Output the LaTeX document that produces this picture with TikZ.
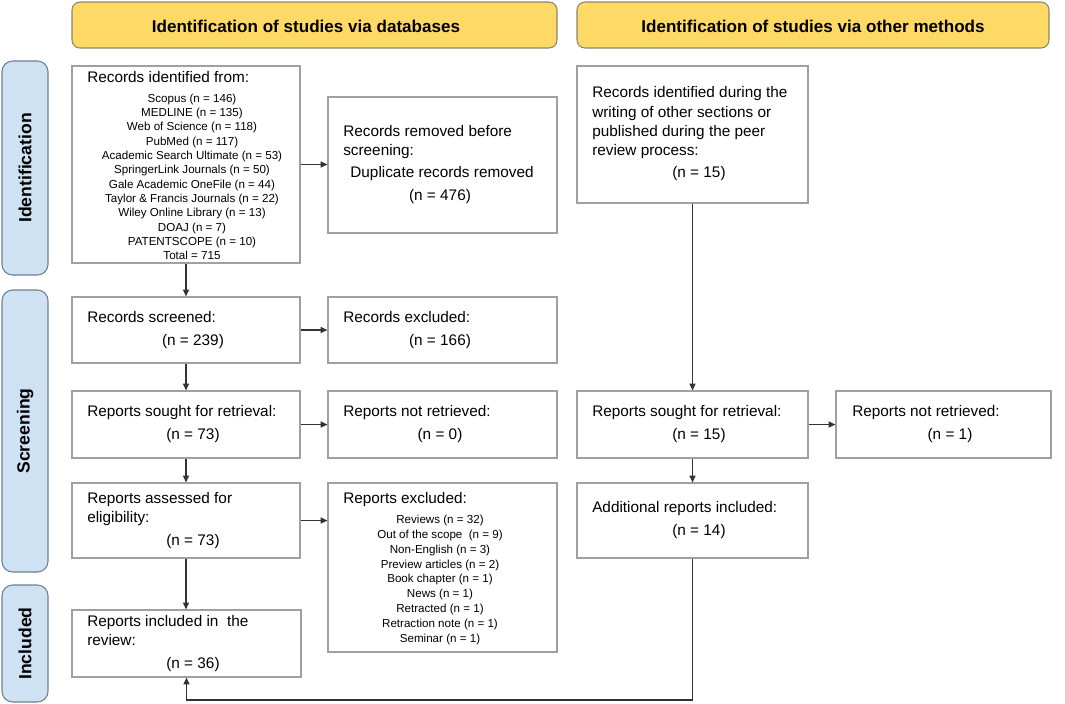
\documentclass[tikz,border=0pt]{standalone}
\usepackage{fontspec}
\setmainfont{Liberation Sans}
\usetikzlibrary{fit,arrows.meta}
\definecolor{hdrfill}{HTML}{FFD966}
\definecolor{hdrdraw}{HTML}{8A8570}
\definecolor{sidefill}{HTML}{CFE2F3}
\definecolor{sidedraw}{HTML}{6E7F8D}
\definecolor{boxdraw}{HTML}{A0A0A0}
\definecolor{arr}{HTML}{333333}
\begin{document}
\begin{tikzpicture}[x=0.75pt,y=-0.75pt,
 hdr/.style={draw=hdrdraw, fill=hdrfill, rounded corners=6pt, inner sep=0pt, line width=0.8pt},
 side/.style={draw=sidedraw, fill=sidefill, rounded corners=8pt, inner sep=0pt, line width=0.8pt},
 box/.style={draw=boxdraw, inner sep=0pt, line width=0.9pt},
 ttl/.style={font=\fontsize{12.8}{15}\selectfont\bfseries, inner sep=0pt},
 sidetxt/.style={font=\fontsize{13.2}{15}\selectfont\bfseries, rotate=90, inner sep=0pt},
 big/.style={font=\fontsize{11.5}{14}\selectfont, inner sep=0pt},
 small/.style={font=\fontsize{8.7}{10.5}\selectfont, inner sep=0pt},
 conn/.style={draw=arr, line width=1pt},
 arrow/.style={conn, -{Triangle[length=5pt,width=4.5pt]}}
]
\useasboundingbox (0,0) rectangle (1065,704);
% headers
\node[hdr, fit={(72,2) (557,48)}] (H1) {};
\node[ttl] (H1t) at (306,26) {Identification of studies via databases};
\node[hdr, fit={(577,2) (1049,48)}] (H2) {};
\node[ttl] (H2t) at (813,26) {Identification of studies via other methods};
% side bars
\node[side, fit={(2,61) (48,275)}] (S1) {};
\node[sidetxt] (S1t) at (S1.center) {Identification};
\node[side, fit={(2,290) (48,572)}] (S2) {};
\node[sidetxt] (S2t) at (S2.center) {Screening};
\node[side, fit={(2,585) (48,702)}] (S3) {};
\node[sidetxt] (S3t) at (S3.center) {Included};
% boxes
\node[box, fit={(72,66) (300,263)}] (A) {};
\node[box, fit={(328,97) (557,233)}] (B) {};
\node[box, fit={(72,297) (300,363)}] (C) {};
\node[box, fit={(328,297) (557,363)}] (D) {};
\node[box, fit={(72,391) (300,458)}] (E) {};
\node[box, fit={(328,391) (557,458)}] (F) {};
\node[box, fit={(72,483) (300,558)}] (G) {};
\node[box, fit={(328,483) (557,652)}] (K) {};
\node[box, fit={(72,610) (301,677)}] (I) {};
\node[box, fit={(577,66) (808,203)}] (O1) {};
\node[box, fit={(577,391) (808,458)}] (O2) {};
\node[box, fit={(836,391) (1051,458)}] (O3) {};
\node[box, fit={(577,483) (808,558)}] (O4) {};
% texts
\node[big, anchor=mid west] (At) at (87,79) {Records identified from:};
\foreach \t [count=\i from 0] in {Scopus (n = 146), MEDLINE (n = 135), Web of Science (n = 118), PubMed (n = 117), Academic Search Ultimate (n = 53), SpringerLink Journals (n = 50), Gale Academic OneFile (n = 44), Taylor \& Francis Journals (n = 22), Wiley Online Library (n = 13), DOAJ (n = 7), PATENTSCOPE (n = 10), Total = 715}
  \node[small, anchor=mid] (Al\i) at (192,{98.5+14.35*\i}) {\t};
\node[big, anchor=mid west] (Bt1) at (343,133) {Records removed before};
\node[big, anchor=mid west] (Bt2) at (343,152) {screening:};
\node[big, anchor=mid] (Bt3) at (442,174) {Duplicate records removed};
\node[big, anchor=mid] (Bt4) at (440,197) {(n = 476)};
\node[big, anchor=mid west] (Ct1) at (87,319) {Records screened:};
\node[big, anchor=mid] (Ct2) at (193,342) {(n = 239)};
\node[big, anchor=mid west] (Dt1) at (343,319) {Records excluded:};
\node[big, anchor=mid] (Dt2) at (440,342) {(n = 166)};
\node[big, anchor=mid west] (Et1) at (87,413) {Reports sought for retrieval:};
\node[big, anchor=mid] (Et2) at (193,436) {(n = 73)};
\node[big, anchor=mid west] (Ft1) at (343,413) {Reports not retrieved:};
\node[big, anchor=mid] (Ft2) at (440,436) {(n = 0)};
\node[big, anchor=mid west] (Gt1) at (87,500) {Reports assessed for};
\node[big, anchor=mid west] (Gt2) at (87,519) {eligibility:};
\node[big, anchor=mid] (Gt3) at (193,542) {(n = 73)};
\node[big, anchor=mid west] (Kt) at (343,500) {Reports excluded:};
\foreach \t [count=\i from 0] in {Reviews (n = 32), Out of the scope\ \ (n = 9), Non-English (n = 3), Preview articles (n = 2), Book chapter (n = 1), News (n = 1), Retracted (n = 1), Retraction note (n = 1), Seminar (n = 1)}
  \node[small, anchor=mid] (Kl\i) at (440,{520+14.85*\i}) {\t};
\node[big, anchor=mid west] (It1) at (87,623) {Reports included in\ \ the};
\node[big, anchor=mid west] (It2) at (87,642) {review:};
\node[big, anchor=mid] (It3) at (193,665) {(n = 36)};
\node[big, anchor=mid west] (O1t1) at (592,94) {Records identified during the};
\node[big, anchor=mid west] (O1t2) at (592,114) {writing of other sections or};
\node[big, anchor=mid west] (O1t3) at (592,133) {published during the peer};
\node[big, anchor=mid west] (O1t4) at (592,152) {review process:};
\node[big, anchor=mid] (O1t5) at (699,174) {(n = 15)};
\node[big, anchor=mid west] (O2t1) at (592,413) {Reports sought for retrieval:};
\node[big, anchor=mid] (O2t2) at (699,436) {(n = 15)};
\node[big, anchor=mid west] (O3t1) at (852,413) {Reports not retrieved:};
\node[big, anchor=mid] (O3t2) at (950,436) {(n = 1)};
\node[big, anchor=mid west] (O4t1) at (592,509) {Additional reports included:};
\node[big, anchor=mid] (O4t2) at (699,532) {(n = 14)};
% connectors
\coordinate (bot) at (0,700);
\draw[arrow] (A.east) -- (A.east -| B.west);
\draw[arrow] (A.south) -- (C.north);
\draw[arrow] (C.east) -- (D.west);
\draw[arrow] (C.south) -- (E.north);
\draw[arrow] (E.east) -- (F.west);
\draw[arrow] (E.south) -- (G.north);
\draw[arrow] (G.east) -- (G.east -| K.west);
\draw[arrow] (G.south) -- (G.south |- I.north);
\draw[arrow] (O1.south) -- (O2.north);
\draw[arrow] (O2.east) -- (O3.west);
\draw[arrow] (O2.south) -- (O4.north);
\draw[arrow] (O4.south) -- (O4.south |- bot) -| (I.south);
\end{tikzpicture}
\end{document}
